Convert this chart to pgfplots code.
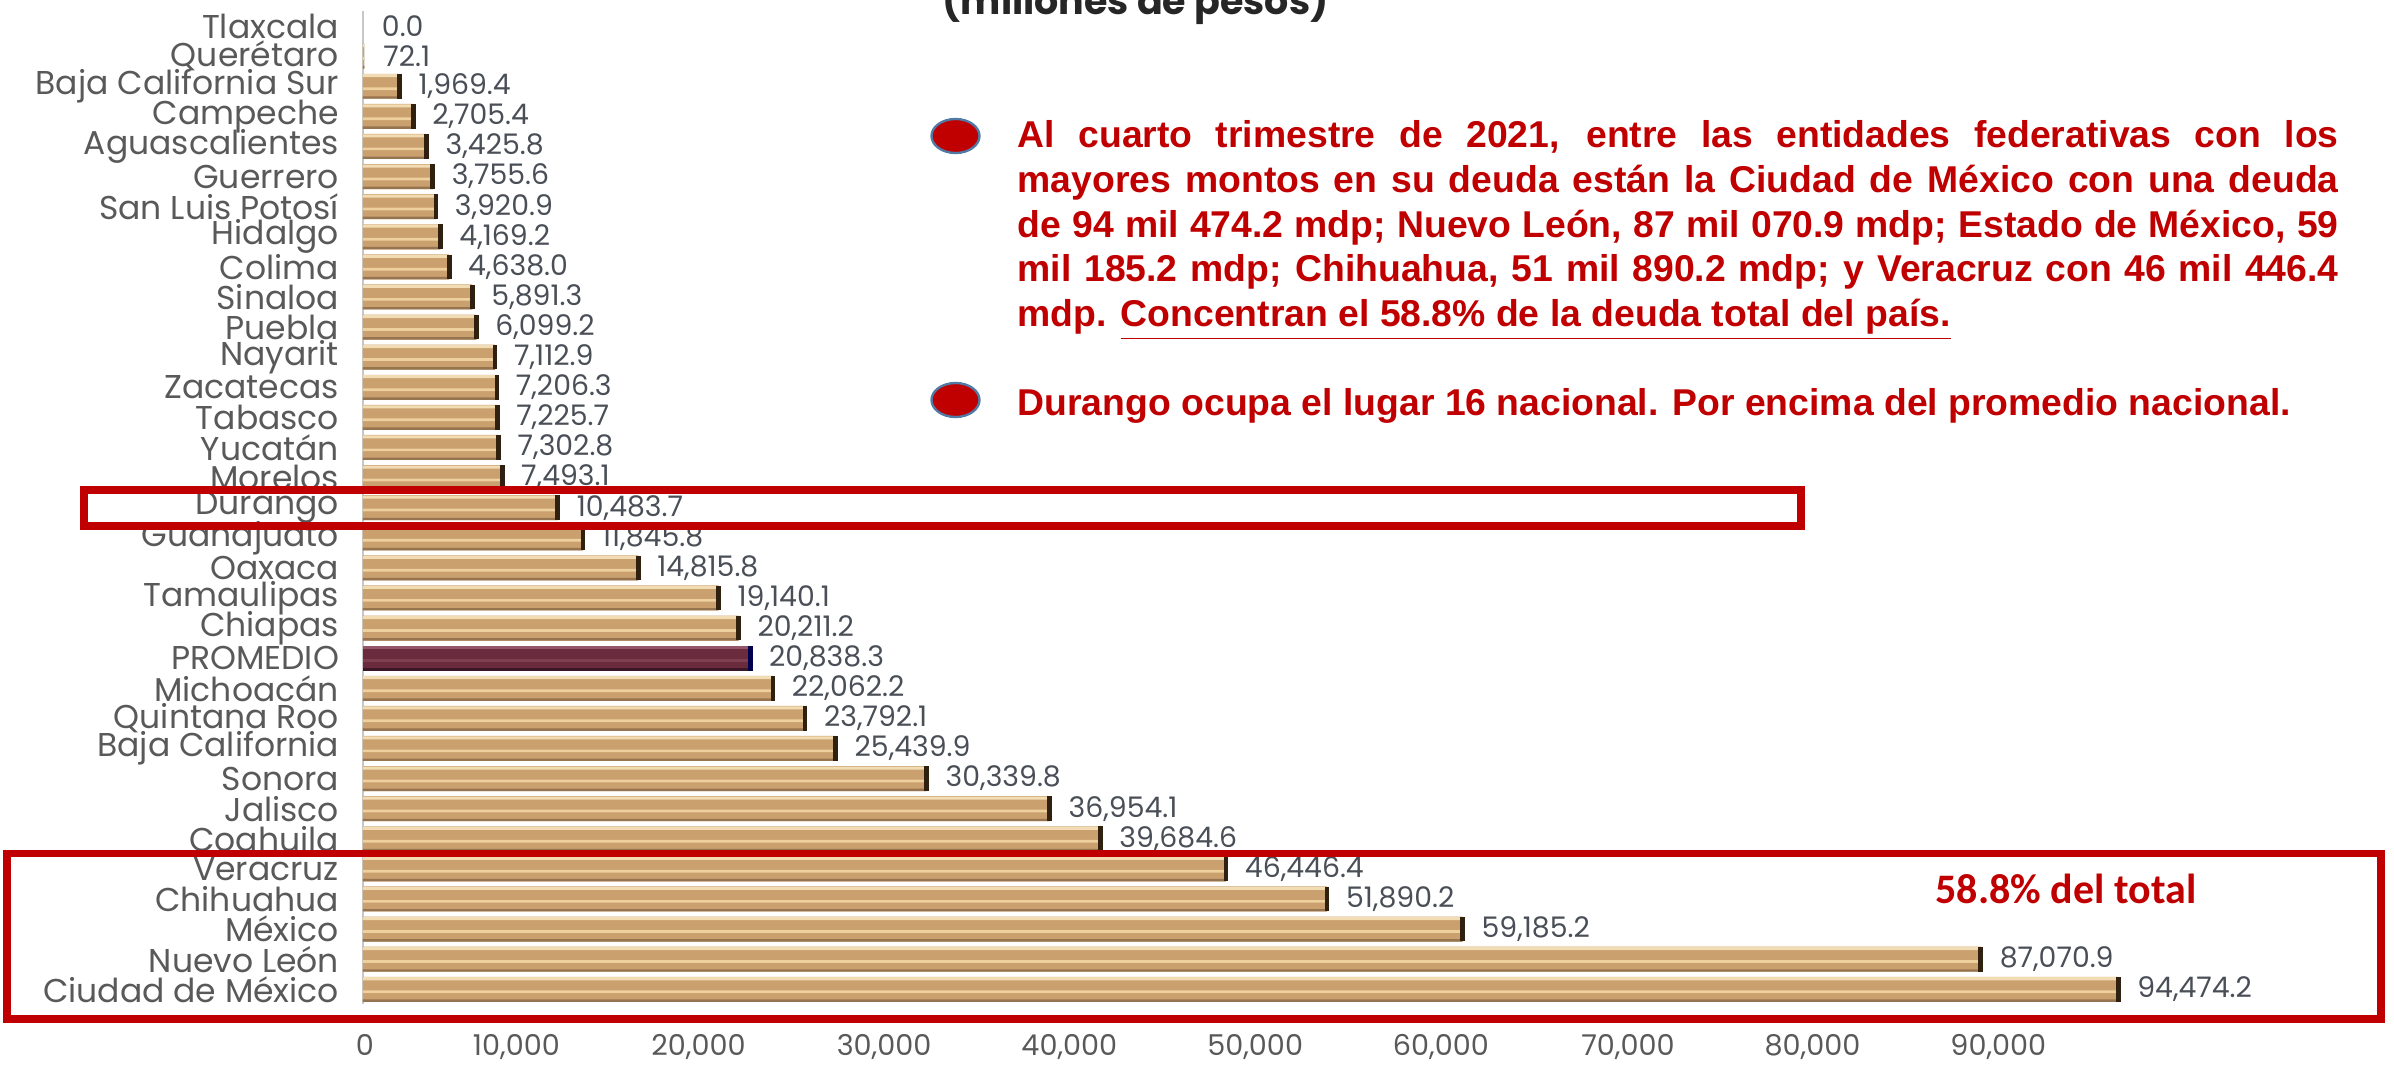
\documentclass[border=0pt]{standalone}
\usepackage{pgfplots}
\pgfplotsset{compat=1.18}
\usepackage{pgfplotstable}
\usepackage{fontspec}
\setmainfont{Liberation Sans}
\newfontfamily\pop{Poppins}
\newfontfamily\carl{Carlito}
\definecolor{redA}{HTML}{C00000}
\definecolor{lblgray}{HTML}{595959}
\definecolor{valgray}{HTML}{4A4F57}
\definecolor{bulletedge}{HTML}{4F7BA6}
\definecolor{tBase}{HTML}{C9A06E}
\definecolor{tTop}{HTML}{F2DCB4}
\definecolor{tMid}{HTML}{EDD09E}
\definecolor{tBot}{HTML}{977450}
\definecolor{mBase}{HTML}{6A2B3C}
\definecolor{mTop}{HTML}{94566A}
\definecolor{mMid}{HTML}{7E3F50}
\definecolor{mBot}{HTML}{3A1626}

\pgfplotstableread{
pos val lab
31 72.1 72.1
30 1969.4 1,969.4
29 2705.4 2,705.4
28 3425.8 3,425.8
27 3755.6 3,755.6
26 3920.9 3,920.9
25 4169.2 4,169.2
24 4638.0 4,638.0
23 5891.3 5,891.3
22 6099.2 6,099.2
21 7112.9 7,112.9
20 7206.3 7,206.3
19 7225.7 7,225.7
18 7302.8 7,302.8
17 7493.1 7,493.1
16 10483.7 10,483.7
15 11845.8 11,845.8
14 14815.8 14,815.8
13 19140.1 19,140.1
12 20211.2 20,211.2
10 22062.2 22,062.2
9 23792.1 23,792.1
8 25439.9 25,439.9
7 30339.8 30,339.8
6 36954.1 36,954.1
5 39684.6 39,684.6
4 46446.4 46,446.4
3 51890.2 51,890.2
2 59185.2 59,185.2
1 87070.9 87,070.9
0 94474.2 94,474.2
}\states
\pgfplotstableread{
pos val lab
11 20838.3 20,838.3
}\promedio
\pgfplotstableread{
pos val lab
32 0.0 0.0
}\tlaxcala

\begin{document}
\begin{tikzpicture}
\path[use as bounding box] (0pt,0pt) rectangle (718.2pt,-321pt);
\begin{axis}[
  at={(108.9pt,-301.3pt)}, anchor=south west,
  scale only axis, width=557.4pt, height=298pt,
  xmin=0, xmax=100000, ymin=-0.5, ymax=32.5,
  axis line style={draw=none},
  major tick length=0pt,
  clip=false,
  ytick={0,...,32},
  yticklabels={Ciudad de México,Nuevo León,México,Chihuahua,Veracruz,Coahuila,Jalisco,Sonora,Baja California,Quintana Roo,Michoacán,PROMEDIO,Chiapas,Tamaulipas,Oaxaca,Guanajuato,Durango,Morelos,Yucatán,Tabasco,Zacatecas,Nayarit,Puebla,Sinaloa,Colima,Hidalgo,San Luis Potosí,Guerrero,Aguascalientes,Campeche,Baja California Sur,Querétaro,Tlaxcala},
  yticklabel style={font=\pop\fontsize{9.9}{10}\selectfont, text=lblgray, inner sep=0pt, xshift=-7pt},
  xtick={0,10000,20000,30000,40000,50000,60000,70000,80000,90000},
  xticklabels={0,{10,000},{20,000},{30,000},{40,000},{50,000},{60,000},{70,000},{80,000},{90,000}},
  xticklabel style={font=\pop\fontsize{8.6}{9}\selectfont, text=lblgray, inner sep=0pt, anchor=north east, xshift=3.5pt, yshift=-8.7pt},
  nodes near coords style={font=\pop\fontsize{8.5}{9}\selectfont, text=valgray, anchor=west, inner sep=0pt, xshift=5.5pt},
]
\draw[black!22, line width=0.6pt] (axis cs:0,-0.5) -- (axis cs:0,32.5);
% tan bars: base, top highlight, middle stripe, bottom shadow
\addplot[xbar, bar width=0.83, bar shift=0pt, draw=none, fill=tBase,
  nodes near coords, point meta=explicit symbolic]
  table[x=val, y=pos, meta=lab] {\states};
\addplot[xbar, bar width=0.10, bar shift=0.35, draw=none, fill=tTop]
  table[x=val, y=pos] {\states};
\addplot[xbar, bar width=0.09, bar shift=-0.08, draw=none, fill=tMid]
  table[x=val, y=pos] {\states};
\addplot[xbar, bar width=0.08, bar shift=-0.375, draw=none, fill=tBot]
  table[x=val, y=pos] {\states};
% promedio bar
\addplot[xbar, bar width=0.83, bar shift=0pt, draw=none, fill=mBase,
  nodes near coords, point meta=explicit symbolic]
  table[x=val, y=pos, meta=lab] {\promedio};
\addplot[xbar, bar width=0.10, bar shift=0.35, draw=none, fill=mTop]
  table[x=val, y=pos] {\promedio};
\addplot[xbar, bar width=0.09, bar shift=-0.08, draw=none, fill=mMid]
  table[x=val, y=pos] {\promedio};
\addplot[xbar, bar width=0.08, bar shift=-0.375, draw=none, fill=mBot]
  table[x=val, y=pos] {\promedio};
% Tlaxcala (zero)
\addplot[draw=none, mark=none, nodes near coords, point meta=explicit symbolic]
  table[x=val, y=pos, meta=lab] {\tlaxcala};
% dark bar ends
\addplot[only marks, mark=|, mark size=3.7pt, mark options={line width=1.4pt, draw=black!75!brown}, restrict x to domain=1000:100000]
  table[x=val, y=pos] {\states};
\addplot[only marks, mark=|, mark size=3.7pt, mark options={line width=1.4pt, draw=blue!30!black}]
  table[x=val, y=pos] {\promedio};
\end{axis}
\begin{scope}[x=0.3pt, y=-0.3pt]
\node[anchor=base west, inner sep=0pt, font=\pop\bfseries\fontsize{11.4}{12}\selectfont, text=black!85] at (942,15) {(millones de pesos)};
\draw[bulletedge, line width=0.7pt, fill=redA] (955.5,136) ellipse [x radius=7.2pt, y radius=5.1pt];
\draw[bulletedge, line width=0.7pt, fill=redA] (955.5,400) ellipse [x radius=7.2pt, y radius=5.1pt];
\node[anchor=north west, inner sep=0pt, text width=396.3pt, align=justify, font=\bfseries\fontsize{11.2}{13.4}\selectfont, text=redA] at (1017,120)
  {\hyphenpenalty=10000\exhyphenpenalty=10000 Al cuarto trimestre de 2021, entre las entidades federativas con los\linebreak mayores montos en su deuda están la Ciudad de México con una deuda\linebreak de 94 mil 474.2 mdp; Nuevo León, 87 mil 070.9 mdp; Estado de México, 59\linebreak mil 185.2 mdp; Chihuahua, 51 mil 890.2 mdp; y Veracruz con 46 mil 446.4\linebreak mdp. \underline{Concentran el 58.8\% de la deuda total del país.}};
\node[anchor=base west, inner sep=0pt, font=\bfseries\fontsize{11.2}{13.4}\selectfont, text=redA] at (1017,415)
  {Durango ocupa el lugar 16 nacional. Por encima del promedio nacional.};
\draw[redA, line width=2.4pt] (84,489.5) rectangle (1801,526);
\draw[redA, line width=2.3pt] (7,853.5) rectangle (2381,1019);
\node[anchor=base west, inner sep=0pt, font=\carl\bfseries\fontsize{12.6}{13}\selectfont, text=redA] at (1935,903) {58.8\% del total};
\end{scope}
\end{tikzpicture}
\end{document}
